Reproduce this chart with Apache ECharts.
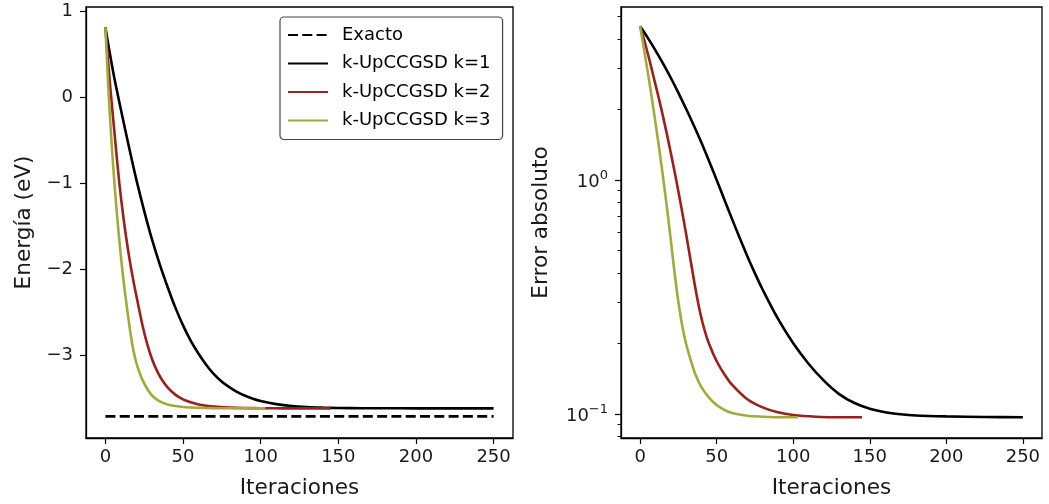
<!DOCTYPE html>
<html>
<head>
<meta charset="utf-8">
<script src="https://cdn.jsdelivr.net/npm/echarts@6/dist/echarts.min.js"></script>
<style>
html,body{margin:0;padding:0;background:#fff;}
#chart{width:1049px;height:504px;}
</style>
</head>
<body>
<div id="chart"></div>
<script>
// ---------- data ----------
const seriesNames = ['Exacto', 'k-UpCCGSD k=1', 'k-UpCCGSD k=2', 'k-UpCCGSD k=3'];
const xTicks = [0, 50, 100, 150, 200, 250];
const energyTicks = [-3, -2, -1, 0, 1];
const errorMajorTicks = [0.1, 1];
const errorMinorTicks = [0.08, 0.09, 0.2, 0.3, 0.4, 0.5, 0.6, 0.7, 0.8, 0.9, 2, 3, 4, 5];

// left panel: energy (eV)
const exactIter = [0, 250];
const exactEnergy = [-3.708, -3.708];

const iterK1 = [0, 5, 10, 15, 20, 25, 30, 35, 40, 45, 50, 55, 60, 65, 70, 75, 80, 85, 90, 95, 100, 110, 120, 130, 140, 150, 165, 180, 200, 225, 250];
const energyK1 = [0.817, 0.30, -0.14, -0.56, -0.96, -1.32, -1.65, -1.94, -2.20, -2.44, -2.65, -2.83, -2.98, -3.11, -3.22, -3.305, -3.37, -3.425, -3.468, -3.503, -3.53, -3.566, -3.588, -3.600, -3.607, -3.611, -3.613, -3.614, -3.615, -3.615, -3.615];

const iterK2 = [0, 3, 6, 9, 12, 15, 18, 21, 24, 27, 30, 33, 36, 40, 45, 50, 55, 60, 70, 80, 90, 100, 115, 130, 145];
const energyK2 = [0.817, 0.15, -0.44, -1.0, -1.45, -1.82, -2.13, -2.40, -2.66, -2.87, -3.04, -3.17, -3.27, -3.37, -3.455, -3.51, -3.545, -3.57, -3.595, -3.606, -3.611, -3.613, -3.615, -3.615, -3.615];

const iterK3 = [0, 2, 4, 6, 8, 10, 12, 14, 16, 18, 20, 22, 24, 27, 30, 35, 40, 45, 50, 60, 70, 80, 90, 103];
const energyK3 = [0.817, 0.07, -0.53, -1.04, -1.47, -1.85, -2.18, -2.46, -2.72, -2.94, -3.09, -3.20, -3.29, -3.39, -3.465, -3.535, -3.57, -3.588, -3.599, -3.608, -3.612, -3.614, -3.615, -3.615];

// right panel: absolute error (log scale)
const errIterK1 = [0, 5, 10, 15, 20, 25, 30, 35, 40, 45, 50, 55, 60, 65, 70, 75, 80, 90, 100, 110, 120, 130, 140, 150, 160, 170, 180, 200, 225, 250];
const errorK1 = [4.539, 4.050, 3.585, 3.144, 2.736, 2.357, 2.016, 1.714, 1.445, 1.205, 1.0, 0.826, 0.682, 0.566, 0.4725, 0.399, 0.3404, 0.2553, 0.2004, 0.1639, 0.1387, 0.1215, 0.1113, 0.1053, 0.1017, 0.0997, 0.0985, 0.0976, 0.0970, 0.0968];

const errIterK2 = [0, 3, 6, 9, 12, 15, 18, 21, 24, 27, 30, 33, 36, 39, 42, 45, 50, 55, 60, 70, 80, 90, 100, 115, 130, 145];
const errorK2 = [4.539, 3.890, 3.273, 2.723, 2.265, 1.862, 1.514, 1.216, 0.966, 0.759, 0.589, 0.452, 0.347, 0.275, 0.229, 0.1995, 0.1679, 0.1479, 0.1334, 0.1156, 0.1067, 0.1016, 0.0989, 0.0973, 0.0968, 0.0968];

const errIterK3 = [0, 2, 4, 6, 8, 10, 12, 14, 16, 18, 20, 22, 24, 26, 28, 30, 33, 36, 40, 45, 50, 55, 60, 70, 80, 90, 103];
const errorK3 = [4.539, 3.802, 3.162, 2.630, 2.163, 1.758, 1.429, 1.148, 0.912, 0.716, 0.556, 0.427, 0.335, 0.272, 0.229, 0.1995, 0.170, 0.148, 0.1303, 0.1175, 0.1091, 0.1040, 0.1009, 0.0982, 0.0973, 0.0968, 0.0968];

// ---------- styling ----------
const FONT = 'DejaVu Sans';
const colors = ['#000000', '#000000', '#9b1f1a', '#a2ab3a'];
const LW = 2.6;

function pairs(xs, ys) { return xs.map((x, i) => [x, ys[i]]); }
function minusFmt(v) { return v < 0 ? '\u2212' + (-v) : String(v); }

const tickLabel = { fontFamily: FONT, fontSize: 18, color: '#1a1a1a' };
const nameStyle = { fontFamily: FONT, fontSize: 21.6, color: '#1a1a1a' };

function xAxis(gi) {
  return {
    type: 'value', gridIndex: gi, min: -12.5, max: 262.5,
    name: 'Iteraciones', nameLocation: 'middle', nameGap: 39, nameTextStyle: nameStyle,
    axisLine: { show: true, onZero: false, lineStyle: { color: '#000', width: 1.3 } },
    axisTick: { show: true, length: 6, customValues: xTicks, lineStyle: { color: '#000', width: 1.2 } },
    axisLabel: Object.assign({ margin: 10, customValues: xTicks, formatter: v => String(v) }, tickLabel),
    splitLine: { show: false }
  };
}

const lineBase = { type: 'line', symbol: 'none', showSymbol: false, smooth: 0.3, animation: false };

function curve(name, xi, yi, xs, ys, color) {
  return Object.assign({}, lineBase, {
    name: name, xAxisIndex: xi, yAxisIndex: yi, data: pairs(xs, ys),
    lineStyle: { color: color, width: LW }, itemStyle: { color: color }
  });
}

const option = {
  animation: false,
  backgroundColor: '#fff',
  grid: [
    { left: 86, top: 7, width: 427, height: 432, show: true, borderColor: '#000', borderWidth: 1.3, backgroundColor: 'transparent' },
    { left: 621, top: 7, width: 421, height: 431, show: true, borderColor: '#000', borderWidth: 1.3, backgroundColor: 'transparent' }
  ],
  legend: {
    data: seriesNames,
    orient: 'vertical', left: 280, top: 17,
    itemWidth: 40, itemHeight: 14, itemGap: 10.5,
    padding: [9, 12, 10, 7],
    itemStyle: { opacity: 0, borderWidth: 0 },
    backgroundColor: '#fff', borderColor: '#444', borderWidth: 1.2, borderRadius: 4,
    textStyle: { fontFamily: FONT, fontSize: 18, color: '#000', padding: [0, 0, 0, 9] }
  },
  xAxis: [xAxis(0), xAxis(1)],
  yAxis: [
    {
      type: 'value', gridIndex: 0, min: -3.96, max: 1.055,
      name: 'Energía (eV)', nameLocation: 'middle', nameGap: 51, nameTextStyle: nameStyle,
      axisLine: { show: true, onZero: false, lineStyle: { color: '#000', width: 1.3 } },
      axisTick: { show: true, length: 6, customValues: energyTicks, lineStyle: { color: '#000', width: 1.2 } },
      axisLabel: Object.assign({ margin: 13, customValues: energyTicks, formatter: minusFmt }, tickLabel),
      splitLine: { show: false }
    },
    {
      type: 'log', logBase: 10, gridIndex: 1, position: 'left', min: 0.0789, max: 5.49,
      name: 'Error absoluto', nameLocation: 'middle', nameGap: 69, nameTextStyle: nameStyle,
      axisLine: { show: true, onZero: false, lineStyle: { color: '#000', width: 1.3 } },
      axisTick: { show: true, length: 6, customValues: errorMajorTicks, lineStyle: { color: '#000', width: 1.2 } },
      axisLabel: {
        margin: 13, customValues: errorMajorTicks,
        formatter: v => (Math.abs(v - 1) < 1e-9 ? '{b|10}{s|0}' : '{b|10}{s|\u22121}'),
        rich: {
          b: { fontFamily: FONT, fontSize: 18, color: '#1a1a1a', lineHeight: 22, verticalAlign: 'bottom' },
          s: { fontFamily: FONT, fontSize: 13, color: '#1a1a1a', lineHeight: 13, verticalAlign: 'top' }
        }
      },
      splitLine: { show: false }
    },
    {
      type: 'log', logBase: 10, gridIndex: 1, position: 'left', min: 0.0789, max: 5.49,
      axisLine: { show: false, onZero: false },
      axisTick: { show: true, length: 3.5, customValues: errorMinorTicks, lineStyle: { color: '#000', width: 1 } },
      axisLabel: { show: false },
      splitLine: { show: false }
    }
  ],
  series: [
    Object.assign({}, lineBase, { name: seriesNames[0], xAxisIndex: 0, yAxisIndex: 0, smooth: false, data: pairs(exactIter, exactEnergy), lineStyle: { color: colors[0], width: LW, type: [10, 4.3] }, itemStyle: { color: colors[0] } }),
    curve(seriesNames[1], 0, 0, iterK1, energyK1, colors[1]),
    curve(seriesNames[2], 0, 0, iterK2, energyK2, colors[2]),
    curve(seriesNames[3], 0, 0, iterK3, energyK3, colors[3]),
    curve(seriesNames[1], 1, 1, errIterK1, errorK1, colors[1]),
    curve(seriesNames[2], 1, 1, errIterK2, errorK2, colors[2]),
    curve(seriesNames[3], 1, 1, errIterK3, errorK3, colors[3])
  ]
};

const chart = echarts.init(document.getElementById('chart'), null, { renderer: 'canvas' });
chart.setOption(option);
</script>
</body>
</html>
